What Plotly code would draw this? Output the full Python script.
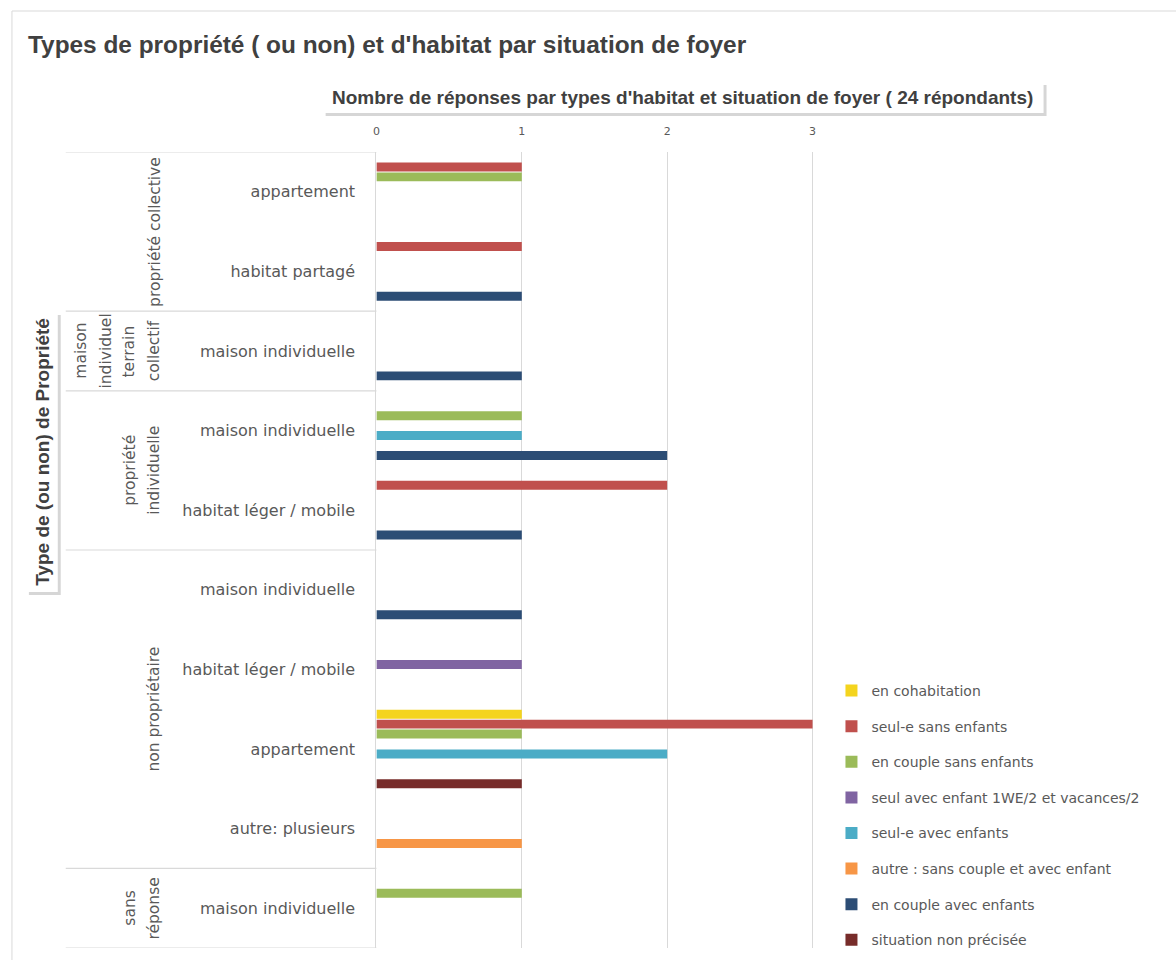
import plotly.graph_objects as go

W, H = 1176, 960

# ---- data ----
habitat = ["appartement", "habitat partagé", "maison individuelle", "maison individuelle",
           "habitat léger / mobile", "maison individuelle", "habitat léger / mobile",
           "appartement", "autre: plusieurs", "maison individuelle"]
groups = [
    (["propriété collective"], [0, 1]),
    (["maison", "individuel", "terrain", "collectif"], [2]),
    (["propriété", "individuelle"], [3, 4]),
    (["non propriétaire"], [5, 6, 7, 8]),
    (["sans", "réponse"], [9]),
]
series = ["en cohabitation", "seul-e sans enfants", "en couple sans enfants",
          "seul avec enfant 1WE/2 et vacances/2", "seul-e avec enfants",
          "autre : sans couple et avec enfant", "en couple avec enfants",
          "situation non précisée"]
colors = ["#F4D41E", "#C0504D", "#9BBB59", "#8064A2", "#4BACC6", "#F79646", "#2C4D75", "#772C2A"]
values = [
    [0, 0, 0, 0, 0, 0, 0, 1, 0, 0],
    [1, 1, 0, 0, 2, 0, 0, 3, 0, 0],
    [1, 0, 0, 1, 0, 0, 0, 1, 0, 1],
    [0, 0, 0, 0, 0, 0, 1, 0, 0, 0],
    [0, 0, 0, 1, 0, 0, 0, 2, 0, 0],
    [0, 0, 0, 0, 0, 0, 0, 0, 1, 0],
    [0, 1, 1, 2, 1, 1, 0, 0, 0, 0],
    [0, 0, 0, 0, 0, 0, 0, 1, 0, 0],
]
x_ticks = [0, 1, 2, 3]

title = "Types de propriété ( ou non) et d'habitat par situation de foyer"
x_title = "Nombre de réponses par types d'habitat et situation de foyer ( 24 répondants)"
y_title = "Type de (ou non) de Propriété"

FONT = "DejaVu Sans"
BOLD = "Liberation Sans"
GRAY = "#595959"
DARK = "#404040"
LINE = "#D9D9D9"


def px(x):
    return x / W


def py(y):
    return 1 - y / H


pos = list(range(len(habitat)))

fig = go.Figure()
for i, (name, vals) in enumerate(zip(series, values)):
    fig.add_trace(go.Bar(
        y=pos, x=vals, name=name, orientation="h",
        marker=dict(color=colors[i], line=dict(width=0)),
        legendgroup=f"g{i}",
    ))

shapes = []
# chart border
shapes.append(dict(type="rect", xref="paper", yref="paper",
                   x0=px(8), x1=1.02, y0=-0.02, y1=py(11),
                   line=dict(color=LINE, width=1), fillcolor="rgba(0,0,0,0)", layer="below"))
# group separators
bounds = [-0.5]
for _, idx in groups:
    bounds.append(idx[-1] + 0.5)
for b in bounds:
    shapes.append(dict(type="line", xref="paper", yref="y", x0=px(62), x1=px(374),
                       y0=b, y1=b, line=dict(color=LINE, width=1.2)))
# x-axis title box with shadow
shapes.append(dict(type="rect", xref="paper", yref="paper",
                   x0=px(323), x1=px(1047), y0=py(116), y1=py(85),
                   line=dict(width=0), fillcolor="rgba(0,0,0,0.16)"))
shapes.append(dict(type="rect", xref="paper", yref="paper",
                   x0=px(320), x1=px(1044), y0=py(113), y1=py(82),
                   line=dict(width=0), fillcolor="white"))
# y-axis title box with shadow
shapes.append(dict(type="rect", xref="paper", yref="paper",
                   x0=px(25), x1=px(57), y0=py(595), y1=py(315),
                   line=dict(width=0), fillcolor="rgba(0,0,0,0.16)"))
shapes.append(dict(type="rect", xref="paper", yref="paper",
                   x0=px(22), x1=px(54), y0=py(592), y1=py(312),
                   line=dict(width=0), fillcolor="white"))

annotations = []
line_x = {1: [151], 2: [127, 151], 4: [77, 102, 126, 151]}
for lines, idx in groups:
    yc = (idx[0] + idx[-1]) / 2
    xs = line_x[len(lines)]
    for t, xx in zip(lines, xs):
        annotations.append(dict(text=t, xref="paper", yref="y", x=px(xx), y=yc,
                                textangle=-90, showarrow=False, xanchor="center", yanchor="middle",
                                font=dict(family=FONT, size=15.5, color=GRAY)))
annotations.append(dict(text=x_title, xref="paper", yref="paper", x=px(681), y=py(97),
                        showarrow=False, xanchor="center", yanchor="middle",
                        font=dict(family=BOLD, size=19, color=DARK, weight="bold")))
annotations.append(dict(text=y_title, xref="paper", yref="paper", x=px(38), y=py(452),
                        textangle=-90, showarrow=False, xanchor="center", yanchor="middle",
                        font=dict(family=BOLD, size=19, color=DARK, weight="bold")))

XMAX = 3.02
fig.update_layout(
    width=W, height=H,
    margin=dict(l=0, r=0, t=0, b=0),
    paper_bgcolor="white", plot_bgcolor="white",
    title=dict(text=title, x=px(28), xref="container", xanchor="left",
               y=py(44), yref="container", yanchor="middle",
               font=dict(family=BOLD, size=24.4, color=DARK, weight="bold")),
    barmode="group", bargap=0, bargroupgap=0.1,
    xaxis=dict(domain=[px(374), px(374 + 146 * XMAX)], range=[0, XMAX], side="top",
               tickvals=x_ticks, ticktext=[str(v) for v in x_ticks],
               showgrid=True, gridcolor=LINE, gridwidth=1.3, zeroline=False,
               showline=False, ticks="", ticklabelstandoff=14,
               tickfont=dict(family=FONT, size=11, color=GRAY)),
    yaxis=dict(domain=[py(948), py(152)], range=[9.5, -0.5],
               tickvals=pos, ticktext=habitat, showgrid=False, zeroline=False,
               showline=True, linecolor=LINE, linewidth=1.3, ticks="",
               ticklabelstandoff=17,
               tickfont=dict(family=FONT, size=16, color=GRAY)),
    legend=dict(x=px(831), y=py(675), xanchor="left", yanchor="top",
                traceorder="grouped", tracegroupgap=14.4, itemwidth=30,
                font=dict(family=FONT, size=14, color=GRAY),
                bgcolor="rgba(0,0,0,0)"),
    shapes=shapes,
    annotations=annotations,
    showlegend=True,
)

fig.write_html("out.html", config={"displayModeBar": False},
               post_script="document.body.style.margin='0';")
